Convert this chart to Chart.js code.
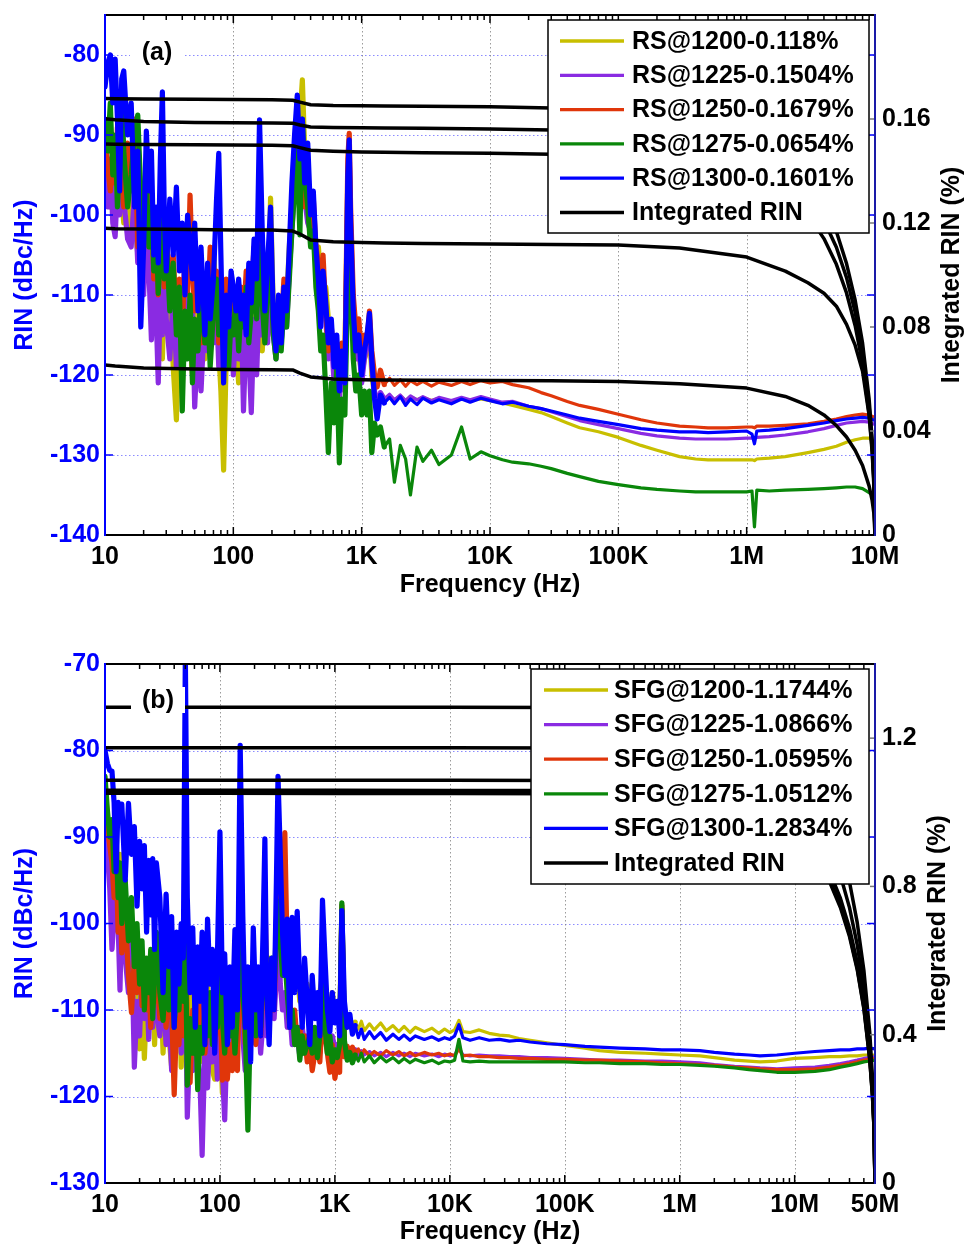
<!DOCTYPE html>
<html><head><meta charset="utf-8">
<script src="https://cdn.jsdelivr.net/npm/chart.js@4.4.1/dist/chart.umd.min.js"></script>
<style>
html,body{margin:0;padding:0;background:#fff;}
#wrap{position:relative;width:965px;height:1245px;overflow:hidden;background:#fff;}
canvas{position:absolute;left:0;}
#ca{top:0;} #cb{top:620px;}
</style></head><body>
<div id="wrap"><canvas id="ca" width="965" height="600"></canvas><canvas id="cb" width="965" height="625"></canvas></div>
<script>
// ---------------- Panel (a) data ----------------
const freqA = [10,10.5,11,11.5,12,12.5,13,13.5,14,15,
16,17,18,19,20,21,22,23,24,25,
26,27,28,29,30,32,34,36,38,40,
42,44,46,48,50,53,56,60,63,66,
70,74,77,80,84,88,92,96,100,105,
110,115,120,126,132,138,145,152,160,168,
176,185,195,205,215,225,236,248,260,273,
286,300,315,330,345,360,380,400,420,440,
460,480,500,525,550,580,610,640,670,700,
740,780,800,820,860,900,950,1000,1050,1100,
1150,1200,1260,1320,1400,1500,1650,1800,2000,2200,
2400,2700,3000,3500,4000,5000,6000,7000,8500,10000,
12500,15000,20000,25000,30000,40000,50000,70000,100000,150000,
200000,300000,400000,500000,700000,1000000,1100000,1150000,1200000,1500000,
2000000,3000000,4000000,5000000,6000000,7000000,8000000,9000000,10000000];

const rsA1200 = [-92,-96,-99,-94,-100,-97,-92,-98,-101,-95,
-102,-99,-105,-97,-108,-101,-106,-111,-104,-113,
-107,-112,-118,-109,-114,-108,-119,-125.6,-113,-110,
-117,-111,-115,-120,-109,-116,-112,-118,-110,-115,
-104,-112,-117,-122,-131.9,-118,-113,-119,-112,-116,
-121,-113,-117,-112,-118,-114,-117.5,-110,-103,-117,
-110,-114,-97.9,-112,-116,-113,-115,-109,-111,-104,
-99,-92,-87,-88,-83.1,-92,-96,-101,-103,-105,
-104,-108,-111,-109,-113,-117,-115.2,-119,-117,-121,
-118,-96,-93,-103,-112,-115,-117,-120,-118,-117,
-114,-120,-122.5,-124,-122.4,-123,-122.6,-123.1,-122.6,-123.2,
-122.7,-123.1,-122.8,-123.2,-122.9,-123.3,-122.9,-123.2,-123,-123.2,
-123.5,-123.8,-124.3,-124.7,-125.2,-126,-126.6,-127.1,-127.8,-128.8,
-129.4,-130.2,-130.5,-130.6,-130.6,-130.6,-130.6,-130.7,-130.5,-130.4,
-130.2,-129.7,-129.3,-128.9,-128.4,-128.1,-127.9,-127.9,-128.4];

const rsA1225 = [-95,-99,-93,-101,-102.7,-96,-100,-94,-98,-103,
-104,-97,-106,-100,-110,-102,-107,-115.6,-108,-112,
-121,-110,-115,-106,-113,-118,-110,-119,-112,-116,
-109,-114,-118,-111,-124,-115,-122,-112,-117,-110,
-116,-111,-119,-113,-118,-112,-117,-110,-120,-113,
-118,-111,-124.5,-114,-117,-124.7,-113,-120,-109,-115,
-111,-116,-107,-115,-118,-112,-116,-111,-114,-107,
-102,-96,-90,-95,-92,-98,-101,-102,-99,-106,
-108,-112,-109,-113,-118,-115,-121,-117,-123,-118,
-122,-98,-92,-102,-113,-118,-116,-121,-118,-116,
-113,-119,-122,-124,-122.2,-123,-122.4,-123.1,-122.5,-123.2,
-122.6,-123.1,-122.7,-123.2,-122.8,-123.2,-122.8,-123.1,-122.7,-123,
-123.4,-123.3,-123.9,-124.2,-124.6,-125.2,-125.7,-126.2,-126.7,-127.3,
-127.6,-127.9,-128,-128,-128,-127.9,-127.9,-127.9,-127.8,-127.7,
-127.5,-127.1,-126.7,-126.3,-126,-125.9,-125.8,-125.9,-126.2];

const rsA1250 = [-90,-94,-97,-92,-96,-89,-93,-95,-99,-91,
-97,-88,-104,-96,-100,-93,-104,-97,-108,-103,
-110,-100,-105,-109,-102,-110,-105,-113,-108,-115,
-104,-110,-97.5,-107,-112,-105,-116,-108,-112,-104,
-113,-107,-116,-110,-113,-108,-117,-111,-114,-110,
-116,-109,-113,-107,-114,-110,-104,-111,-101,-107,
-113,-108,-104,-114,-116,-111,-114,-108,-113,-106,
-100,-93,-88,-91,-93,-99,-97,-103,-98,-104,
-106,-110,-105,-112,-117,-114,-118,-116,-120,-116,
-119,-93,-89.8,-99,-110,-114,-113,-118,-115,-116,
-112,-117,-120,-121.5,-119.4,-121.2,-120.4,-121.3,-120.6,-121.4,
-120.7,-121.2,-120.8,-121.4,-120.9,-121.3,-120.8,-121.2,-120.7,-121,
-120.8,-121.2,-121.6,-122.2,-122.6,-123.3,-123.8,-124.3,-124.9,-125.6,
-126,-126.4,-126.5,-126.6,-126.6,-126.5,-126.5,-126.6,-126.4,-126.4,
-126.3,-126.1,-125.8,-125.5,-125.2,-125,-124.9,-125,-125.3];

const rsA1275 = [-88,-92,-86,-95,-90,-99,-93,-84.5,-92,-99,
-95,-90,-87.5,-97,-102,-96,-104,-99,-107,-101,
-109.8,-105,-100,-108,-103,-112,-106,-115,-109,-124.5,
-112,-118,-110,-121,-113,-117,-109,-116,-111,-119,
-112,-108,-115,-111,-117,-112,-119,-113,-115,-110,
-117,-111,-114,-109,-116,-112,-107,-113,-104,-111,
-116,-109,-106,-115,-118,-113,-117,-111,-114,-108,
-102,-97,-92,-102.5,-88,-95,-99,-104,-102,-109,
-112,-117,-115,-122,-129.7,-121,-126,-119,-131,-123,
-125,-108,-101,-108,-118,-122,-120,-125,-122,-125,
-122,-129.7,-126,-127.5,-126.5,-129,-128,-133.4,-128.8,-130.5,
-135,-129,-130.8,-129.4,-131.2,-130,-126.5,-130.5,-129.6,-130.1,
-130.6,-130.9,-131.1,-131.4,-131.7,-132.3,-132.7,-133.3,-133.7,-134.1,
-134.3,-134.5,-134.6,-134.6,-134.6,-134.6,-134.5,-139,-134.4,-134.5,
-134.4,-134.3,-134.2,-134.1,-134,-134,-134.2,-134.7,-135.2];

const rsA1300 = [-84,-81,-80,-86,-80.5,-88,-97,-83,-82,-90,
-86,-99,-92,-114,-104,-89.5,-97,-92,-105,-99,
-106,-93,-84.6,-100,-107,-98,-105,-96.5,-107,-101,
-110,-100,-104,-108,-101,-112,-104,-115,-106,-113,
-108,-98,-92.3,-105,-121,-110,-114,-107,-109,-112,
-108,-113,-110,-115,-106,-111,-103,-108,-88.1,-102,
-112,-106,-99,-113,-117,-110,-116,-109,-112,-104,
-96,-90,-85,-93,-88,-96,-91,-100,-97,-104,
-108,-114,-107,-111,-116,-113,-119,-115,-122,-117,
-121,-95,-90.6,-101,-112,-117,-115,-120,-117,-115,
-112.3,-118,-123,-125.5,-122.5,-123.5,-122.8,-123.6,-122.7,-123.8,
-123,-123.7,-122.9,-123.5,-123.1,-123.6,-123,-123.4,-122.9,-123.2,
-123.6,-123.4,-123.9,-124.2,-124.5,-125,-125.4,-125.8,-126.2,-126.7,
-126.9,-127.1,-127.1,-127.2,-127.1,-127,-127.4,-128.6,-127,-126.9,
-126.7,-126.3,-126,-125.7,-125.5,-125.4,-125.3,-125.4,-125.7];

const intFreqA = [10,12,20,50,100,200,290,330,400,600,1000,1500,3000,10000,30000,100000,300000,
1000000,2000000,3000000,4000000,5000000,6000000,7000000,8000000,9000000,9500000,9800000,10000000];
const intA1200 = [0.1180,0.1178,0.1177,0.1175,0.1173,0.1173,0.1169,0.1158,0.1135,0.1128,0.1125,0.1123,0.1121,0.1119,0.1117,0.1115,0.1104,
0.1069,0.1015,0.0970,0.0930,0.0880,0.0810,0.0730,0.0630,0.0460,0.0320,0.0190,0];
const intA1225 = [0.1504,0.1503,0.1502,0.1501,0.1500,0.1499,0.1497,0.1490,0.1480,0.1476,0.1473,0.1472,0.1470,0.1468,0.1464,0.1456,0.1437,
0.1390,0.1310,0.1232,0.1140,0.1041,0.0931,0.0806,0.0658,0.0466,0.0330,0.0208,0];
const intA1250 = [0.1679,0.1678,0.1677,0.1676,0.1675,0.1674,0.1672,0.1665,0.1655,0.1652,0.1651,0.1650,0.1649,0.1647,0.1642,0.1632,0.1610,
0.1565,0.1476,0.1380,0.1278,0.1167,0.1044,0.0904,0.0738,0.0522,0.0369,0.0233,0];
const intA1275 = [0.0654,0.0650,0.0642,0.0638,0.0637,0.0636,0.0635,0.0623,0.0608,0.0600,0.0597,0.0596,0.0595,0.0594,0.0593,0.0590,0.0582,
0.0565,0.0533,0.0499,0.0462,0.0421,0.0377,0.0326,0.0267,0.0188,0.0133,0.0084,0];
const intA1300 = [0.1601,0.1597,0.1590,0.1587,0.1586,0.1585,0.1584,0.1577,0.1569,0.1567,0.1566,0.1565,0.1564,0.1562,0.1558,0.1550,0.1530,
0.1480,0.1400,0.1310,0.1210,0.1107,0.0990,0.0857,0.0700,0.0495,0.0350,0.0221,0];

const legendA = ['RS@1200-0.118%','RS@1225-0.1504%','RS@1250-0.1679%','RS@1275-0.0654%','RS@1300-0.1601%','Integrated RIN'];
const xTickValsA = [10,100,1000,10000,100000,1000000,10000000];
const xTickLabelsA = ['10','100','1K','10K','100K','1M','10M'];
const yTicksA = [-140,-130,-120,-110,-100,-90,-80];
const y2TicksA = [0,0.04,0.08,0.12,0.16];
const y2LabelsA = ['0','0.04','0.08','0.12','0.16'];

// ---------------- Panel (b) data ----------------
const freqB = [10,10.5,11,11.5,12,12.5,13,13.5,14,15,
16,17,18,19,20,21,22,23,24,25,
26,27,28,30,32,34,36,38,40,42,
44,46,48,50,52,55,58,61,64,67,
70,74,78,82,86,90,95,100,105,110,
116,122,128,135,142,150,158,166,175,185,
195,205,215,226,238,246,255,268,282,296,
310,320,335,350,367,385,405,425,447,470,
495,520,545,575,605,635,670,705,740,780,
820,860,905,950,1000,1050,1100,1150,1210,1280,
1350,1420,1500,1600,1700,1800,2000,2200,2500,2800,
3200,3600,4000,4500,5000,6000,7000,8000,9000,10000,
11000,12000,13000,15000,18000,22000,27000,33000,40000,50000,
70000,100000,150000,200000,300000,500000,700000,1000000,1500000,2000000,
3000000,4000000,5000000,7000000,10000000,15000000,20000000,25000000,30000000,35000000,
40000000,45000000,50000000];

const sfgB1200 = [-84,-88,-91,-95,-90.5,-99,-96,-92,-100,-97,
-104,-101,-110,-105,-114.5,-107,-115.6,-109,-104,-111,
-106,-114,-108,-103,-115,-107,-113,-116.6,-109,-112,
-106,-116.6,-110,-98,-113,-108,-114,-111,-105,-116,
-109,-113,-107,-112,-117,-118,-110,-112,-119.6,-114,
-109,-115,-111,-106,-113,-100,-108,-114,-110,-107,
-113,-109,-111,-106,-112,-105,-110,-104,-108,-107,
-104,-102,-106,-104,-101.9,-105,-103,-108,-106,-104.7,
-109,-106,-110,-107,-109,-108,-110,-109,-108,-106,
-109,-111,-110,-108,-110.8,-110.2,-111.5,-98.3,-111.2,-111.8,
-111,-112,-111.4,-112.2,-111.3,-112.4,-111.6,-112.3,-111.5,-112.4,
-111.8,-112.5,-111.9,-112.6,-112,-112.5,-112.1,-112.7,-112.2,-112.6,
-112.3,-111.2,-112.5,-112.6,-112.3,-112.7,-112.9,-113,-113.3,-113.5,
-113.8,-114.1,-114.4,-114.7,-114.9,-115,-115.1,-115.2,-115.3,-115.5,
-115.8,-115.9,-116,-115.9,-115.6,-115.5,-115.4,-115.4,-115.3,-115.3,
-115.2,-115.2,-115.2];

const sfgB1225 = [-86,-92,-96,-103,-99,-94,-100,-107.7,-98,-104,
-108,-101,-116.6,-109,-113,-105,-111,-106,-113.4,-108,
-112,-104,-110,-113,-107,-114,-110,-117,-111,-113,
-108,-115,-109,-105,-122.4,-113,-117,-110,-115,-118,
-126.8,-114,-119,-112,-116,-110,-118,-113,-117,-122.7,
-112,-116,-111,-115,-109,-104,-113,-117,-111,-114,
-109,-113,-110,-115,-111,-107,-113,-110,-108,-111,
-106,-97,-107,-110,-108,-112,-110,-114,-111,-113,
-115.3,-112,-114,-113,-115,-112,-114,-113,-115,-108,
-112,-113,-115.4,-113,-114.5,-114,-115,-99,-114.6,-115.2,
-114.5,-115.1,-114.6,-115.3,-114.7,-115.2,-114.8,-115.3,-114.9,-115.4,
-114.9,-115.3,-115,-115.4,-115,-115.3,-115.1,-115.4,-115.1,-115.3,
-115.2,-114.3,-115.2,-115.3,-115.2,-115.3,-115.3,-115.4,-115.4,-115.5,
-115.5,-115.6,-115.7,-115.8,-115.8,-115.9,-115.9,-116,-116.1,-116.3,
-116.5,-116.6,-116.7,-116.8,-116.7,-116.6,-116.4,-116.2,-116,-115.8,
-115.6,-115.5,-115.4];

const sfgB1250 = [-85,-89,-91,-93,-97,-92,-101,-96,-103.4,-99,
-106,-110.3,-104,-108,-102,-109.5,-104,-110,-106,-112,
-107,-109,-105,-111,-106,-112,-107,-110,-119.8,-111,
-114,-108,-113,-102,-112,-118.4,-110,-114,-109,-113,
-108,-115,-111,-113,-109,-114,-111,-108,-118.1,-112,
-118,-114,-117,-110,-117,-102,-109,-113.9,-108,-112,
-107,-114,-109,-113,-107,-96,-108,-112,-105,-110,
-100,-92,-96,-98,-89.5,-104,-109,-112,-110,-114,
-112,-115,-113,-116,-114,-117,-115,-114,-116,-110,
-113,-115,-117.2,-114,-117.9,-116,-117.2,-97.9,-115.4,-114.2,
-115,-114.3,-115.1,-114.5,-115.2,-114.6,-115.3,-114.8,-115.3,-114.7,
-115.2,-114.8,-115.3,-114.9,-115.3,-114.9,-115.2,-115,-115.3,-115.1,
-115.3,-114.5,-115.3,-115.2,-115.4,-115.4,-115.5,-115.5,-115.6,-115.6,
-115.7,-115.7,-115.8,-115.8,-115.9,-116,-116.1,-116.2,-116.3,-116.4,
-116.6,-116.7,-116.8,-116.9,-116.9,-116.8,-116.6,-116.4,-116.2,-116,
-115.8,-115.7,-115.6];

const sfgB1275 = [-83,-87,-90,-88,-94,-90,-97,-93,-100,-95,
-102,-97,-105,-100,-107,-102,-110,-104,-108,-103,
-111,-106,-101,-108,-111.2,-105,-110,-104,-112,-107,
-110,-105,-109,-100,-118.7,-111,-115,-109,-119.2,-112,
-115,-110,-113,-108,-114,-109,-112,-103,-111,-115,
-108,-113,-109,-115,-110,-98,-108,-112,-123.9,-110,
-108,-113,-109,-112,-106,-99,-108,-111,-104,-108,
-100,-97.4,-102,-106,-104,-108,-112,-110,-114,-112,
-115.8,-113,-115,-114,-113,-115,-112,-115.5,-113,-105,
-112,-115,-113,-116,-114.6,-115.5,-114,-97.6,-113.5,-115.8,
-114.9,-116.1,-115.2,-115.9,-115,-116,-115.3,-116.1,-115.4,-116,
-115.5,-116.1,-115.6,-116.1,-115.7,-116.1,-115.8,-116.2,-115.9,-116,
-115.8,-113.4,-115.9,-116,-115.9,-116,-116,-116,-116,-116,
-116,-116,-116.1,-116.1,-116.2,-116.2,-116.3,-116.3,-116.4,-116.5,
-116.7,-116.9,-117,-117.2,-117.2,-117.1,-116.9,-116.6,-116.4,-116.2,
-116,-115.9,-115.8];

const sfgB1300 = [-80,-81.5,-82.3,-82.4,-86,-94,-86,-88,-86.2,-95,
-86.1,-92,-88.8,-98,-90.5,-96,-91,-101,-92.7,-99,
-92.5,-103,-93,-97,-108,-96.6,-105,-99.2,-112,-101,
-107,-100,-104,-69,-97,-108,-100.5,-112,-102.7,-109,
-101,-114,-99.5,-107,-103,-115,-104,-89.4,-108,-103.5,
-114,-105,-112,-100.7,-110,-79.4,-99,-112,-105,-116,
-100.5,-110,-105,-113,-100,-90.2,-108,-114,-104,-110,
-95,-83,-92,-101,-106,-99.5,-112,-99.3,-108,-98.6,
-107,-112,-104,-109,-114,-106,-111,-108,-113,-97.3,
-104,-110,-112.5,-108,-111.5,-109,-113,-98.5,-109,-112,
-110.5,-112.8,-111.8,-113.2,-112.2,-113.4,-112.5,-113.3,-112.6,-113.5,
-112.8,-113.4,-112.9,-113.5,-113,-113.4,-113.1,-113.5,-113.2,-113.4,
-113,-111.7,-113.2,-113.5,-113.2,-113.5,-113.4,-113.6,-113.5,-113.7,
-113.9,-114,-114.2,-114.3,-114.4,-114.5,-114.6,-114.6,-114.7,-114.9,
-115.1,-115.2,-115.3,-115.2,-115,-114.8,-114.7,-114.6,-114.6,-114.5,
-114.5,-114.4,-114.5];

const intFreqB = [10,100,1000,10000,100000,1000000,5000000,10000000,15000000,20000000,25000000,30000000,35000000,40000000,45000000,47500000,49000000,50000000];
const intB1200 = [1.1744,1.1743,1.1742,1.1740,1.1735,1.1626,1.1141,1.0504,0.9826,0.9097,0.8304,0.7428,0.6432,0.5252,0.3714,0.2626,0.1660,0];
const intB1225 = [1.0866,1.0865,1.0864,1.0862,1.0857,1.0757,1.0308,0.9719,0.9091,0.8417,0.7683,0.6872,0.5952,0.4860,0.3436,0.2430,0.1540,0];
const intB1250 = [1.0595,1.0594,1.0593,1.0591,1.0586,1.0489,1.0051,0.9477,0.8864,0.8207,0.7492,0.6701,0.5803,0.4738,0.3350,0.2369,0.1500,0];
const intB1275 = [1.0512,1.0511,1.0510,1.0508,1.0503,1.0407,0.9973,0.9402,0.8795,0.8142,0.7433,0.6648,0.5758,0.4701,0.3324,0.2351,0.1490,0];
const intB1300 = [1.2834,1.2833,1.2832,1.2830,1.2825,1.2705,1.2175,1.1480,1.0740,0.9940,0.9075,0.8120,0.7030,0.5740,0.4060,0.2870,0.1810,0];

const legendB = ['SFG@1200-1.1744%','SFG@1225-1.0866%','SFG@1250-1.0595%','SFG@1275-1.0512%','SFG@1300-1.2834%','Integrated RIN'];
const xTickValsB = [10,100,1000,10000,100000,1000000,10000000,50000000];
const xTickLabelsB = ['10','100','1K','10K','100K','1M','10M','50M'];
const yTicksB = [-130,-120,-110,-100,-90,-80,-70];
const y2TicksB = [0,0.4,0.8,1.2];
const y2LabelsB = ['0','0.4','0.8','1.2'];

// ---------------- styles ----------------
const COLORS = ['#c8bf00','#8a2be2','#e0360a','#0a870a','#0000ff'];
const FAM = '"Liberation Sans", Arial, Helvetica, sans-serif';
const F = (s) => ({family: FAM, size: s, weight: 'bold'});

function minorTicks(min, max) {
  const out = [];
  for (let e = Math.floor(Math.log10(min)); e <= Math.ceil(Math.log10(max)); e++) {
    for (let m = 1; m < 10; m++) {
      const v = m * Math.pow(10, e);
      if (v >= min * 0.999 && v <= max * 1.001) out.push({v, major: m === 1});
    }
  }
  return out;
}

function makeChart(id, p) {
  const datasets = [];
  p.series.forEach((vals, i) => datasets.push({
    label: p.legend[i], data: p.freq.map((f, j) => ({x: f, y: vals[j]})),
    borderColor: COLORS[i], backgroundColor: COLORS[i], borderWidth: 3.2,
    segment: {borderWidth: c => (p.freq[c.p0DataIndex] < p.noisyMax ? 5.2 : 3.2)},
    pointRadius: 0, tension: 0, borderJoinStyle: 'round', borderCapStyle: 'round', fill: false,
    yAxisID: 'y', order: 20 - i
  }));
  p.ints.forEach((vals, i) => datasets.push({
    label: 'int' + i, data: p.intFreq.map((f, j) => ({x: f, y: vals[j]})),
    borderColor: '#000', borderWidth: 3.5, pointRadius: 0, tension: 0,
    borderJoinStyle: 'round', fill: false, yAxisID: 'y2', order: 5 - i
  }));

  const deco = {
    id: 'deco' + id,
    beforeDatasetsDraw(chart) {
      const {ctx, chartArea: a, scales} = chart;
      ctx.save();
      ctx.lineWidth = 1;
      ctx.setLineDash([1.5, 2.5]);
      ctx.strokeStyle = 'rgba(100,100,255,0.75)';
      p.yTicks.forEach(v => {
        const py = Math.round(scales.y.getPixelForValue(v)) + 0.5;
        if (py > a.top + 2 && py < a.bottom - 2) { ctx.beginPath(); ctx.moveTo(a.left, py); ctx.lineTo(a.right, py); ctx.stroke(); }
      });
      ctx.strokeStyle = 'rgba(130,130,130,0.8)';
      p.xGrid.forEach(v => {
        const px = Math.round(scales.x.getPixelForValue(v)) + 0.5;
        if (px > a.left + 2 && px < a.right - 2) { ctx.beginPath(); ctx.moveTo(px, a.top); ctx.lineTo(px, a.bottom); ctx.stroke(); }
      });
      ctx.restore();
    },
    afterDatasetsDraw(chart) {
      const {ctx, chartArea: a, scales} = chart;
      ctx.save();
      ctx.setLineDash([]);
      ctx.strokeStyle = '#000'; ctx.lineWidth = 1.5;
      minorTicks(10, p.xMax).forEach(t => {
        const px = scales.x.getPixelForValue(t.v);
        const L = t.major ? 8 : 5;
        ctx.beginPath(); ctx.moveTo(px, a.bottom); ctx.lineTo(px, a.bottom - L);
        ctx.moveTo(px, a.top); ctx.lineTo(px, a.top + L); ctx.stroke();
      });
      ctx.strokeStyle = '#0000ff';
      p.yTicks.forEach(v => {
        const py = scales.y.getPixelForValue(v);
        ctx.beginPath(); ctx.moveTo(a.left, py); ctx.lineTo(a.left + 8, py);
        ctx.moveTo(a.right, py); ctx.lineTo(a.right - 8, py); ctx.stroke();
      });
      ctx.strokeStyle = '#777';
      p.y2Ticks.forEach(v => {
        const py = scales.y2.getPixelForValue(v);
        ctx.beginPath(); ctx.moveTo(a.right, py); ctx.lineTo(a.right - 5, py); ctx.stroke();
      });
      const Lg = p.legendBox;
      ctx.fillStyle = '#fff';
      ctx.fillRect(Lg.x0, Lg.y0, Lg.x1 - Lg.x0, Lg.y1 - Lg.y0);
      ctx.strokeStyle = '#000'; ctx.lineWidth = 1.5;
      ctx.strokeRect(Lg.x0, Lg.y0, Lg.x1 - Lg.x0, Lg.y1 - Lg.y0);
      ctx.font = 'bold 25px ' + FAM; ctx.textBaseline = 'middle'; ctx.textAlign = 'left';
      p.legend.forEach((lab, i) => {
        const yy = Lg.row0 + i * Lg.dy;
        ctx.strokeStyle = i < 5 ? COLORS[i] : '#000'; ctx.lineWidth = 3.3;
        ctx.beginPath(); ctx.moveTo(Lg.sx0, yy); ctx.lineTo(Lg.sx1, yy); ctx.stroke();
        ctx.fillStyle = '#000';
        ctx.fillText(lab, Lg.tx, yy + 1);
      });
      ctx.lineWidth = 2;
      ctx.strokeStyle = '#000';
      ctx.beginPath(); ctx.moveTo(a.left, a.top); ctx.lineTo(a.right, a.top);
      ctx.moveTo(a.left, a.bottom); ctx.lineTo(a.right, a.bottom); ctx.stroke();
      ctx.strokeStyle = '#0000ff';
      ctx.beginPath(); ctx.moveTo(a.left, a.top - 1); ctx.lineTo(a.left, a.bottom + 1); ctx.stroke();
      ctx.strokeStyle = '#1a1aa8';
      ctx.beginPath(); ctx.moveTo(a.right, a.top - 1); ctx.lineTo(a.right, a.bottom + 1); ctx.stroke();
      ctx.font = 'bold 25px ' + FAM; ctx.textAlign = 'center'; ctx.textBaseline = 'middle';
      ctx.fillStyle = '#fff';
      ctx.fillRect(p.tag.x - 27, p.tag.y - 13, 54, 26);
      ctx.fillStyle = '#000';
      ctx.fillText(p.tag.text, p.tag.x, p.tag.y + 1);
      ctx.save();
      ctx.translate(p.rTitle.x, (a.top + a.bottom) / 2); ctx.rotate(-Math.PI / 2);
      ctx.fillText('Integrated RIN (%)', 0, 0);
      ctx.restore();
      ctx.restore();
    }
  };

  return new Chart(document.getElementById(id), {
    type: 'line',
    data: {datasets},
    options: {
      responsive: false, animation: false, devicePixelRatio: 1, events: [],
      layout: {padding: {top: p.padTop, left: 0, right: 0, bottom: 0}},
      plugins: {legend: {display: false}, tooltip: {enabled: false}},
      scales: {
        x: {
          type: 'logarithmic', position: 'bottom', min: 10, max: p.xMax,
          afterBuildTicks: s => { s.ticks = p.xTickVals.map(v => ({value: v})); },
          afterFit: s => { s.height = p.xHeight; s.paddingLeft = 0; s.paddingRight = 0; },
          ticks: {autoSkip: false, maxRotation: 0, minRotation: 0, padding: 7, color: '#000', font: F(25),
            callback: (v) => { const i = p.xTickVals.indexOf(v); return i >= 0 ? p.xTickLabels[i] : ''; }},
          grid: {display: false, drawTicks: false, tickLength: 0}, border: {display: false},
          title: {display: true, text: 'Frequency (Hz)', color: '#000', font: F(25), padding: {top: 0, bottom: p.xTitlePad}}
        },
        y: {
          type: 'linear', position: 'left', min: p.yMin, max: p.yMax,
          afterBuildTicks: s => { s.ticks = p.yTicks.map(v => ({value: v})); },
          afterFit: s => { s.width = 105; s.paddingTop = 0; s.paddingBottom = 0; },
          ticks: {padding: 5, color: '#0000ff', font: F(25), callback: (v) => String(v)},
          grid: {display: false, drawTicks: false, tickLength: 0}, border: {display: false},
          title: {display: true, text: 'RIN (dBc/Hz)', color: '#0000ff', font: F(25), padding: {top: 10, bottom: 0}}
        },
        y2: {
          type: 'linear', position: 'right', min: 0, max: p.y2Max,
          afterBuildTicks: s => { s.ticks = p.y2Ticks.map(v => ({value: v})); },
          afterFit: s => { s.width = 90; s.paddingTop = 0; s.paddingBottom = 0; },
          ticks: {padding: 7, color: '#000', font: F(25),
            callback: (v) => { const i = p.y2Ticks.indexOf(v); return i >= 0 ? p.y2Labels[i] : ''; }},
          grid: {display: false, drawTicks: false, tickLength: 0}, border: {display: false}
        }
      }
    },
    plugins: [deco]
  });
}

makeChart('ca', {
  freq: freqA, series: [rsA1200, rsA1225, rsA1250, rsA1275, rsA1300],
  intFreq: intFreqA, ints: [intA1200, intA1225, intA1250, intA1275, intA1300],
  legend: legendA, xMax: 10000000, xTickVals: xTickValsA, xTickLabels: xTickLabelsA,
  xGrid: xTickValsA, yMin: -140, yMax: -75, yTicks: yTicksA, y2Max: 0.2, y2Ticks: y2TicksA, y2Labels: y2LabelsA,
  padTop: 15, xHeight: 65, xTitlePad: 0, noisyMax: 1500,
  legendBox: {x0: 548, x1: 869, y0: 20, y1: 233, row0: 41, dy: 34.3, sx0: 560, sx1: 624, tx: 632},
  tag: {text: '(a)', x: 157, y: 52}, rTitle: {x: 952}
});

makeChart('cb', {
  freq: freqB, series: [sfgB1200, sfgB1225, sfgB1250, sfgB1275, sfgB1300],
  intFreq: intFreqB, ints: [intB1200, intB1225, intB1250, intB1275, intB1300],
  legend: legendB, xMax: 50000000, xTickVals: xTickValsB, xTickLabels: xTickLabelsB,
  xGrid: [10,100,1000,10000,100000,1000000,10000000], yMin: -130, yMax: -70, yTicks: yTicksB, y2Max: 1.4, y2Ticks: y2TicksB, y2Labels: y2LabelsB,
  padTop: 44, xHeight: 62, xTitlePad: -2, noisyMax: 1500,
  legendBox: {x0: 531, x1: 869, y0: 49, y1: 264, row0: 70, dy: 34.6, sx0: 544, sx1: 608, tx: 614},
  tag: {text: '(b)', x: 158, y: 80}, rTitle: {x: 938}
});
</script></body></html>
